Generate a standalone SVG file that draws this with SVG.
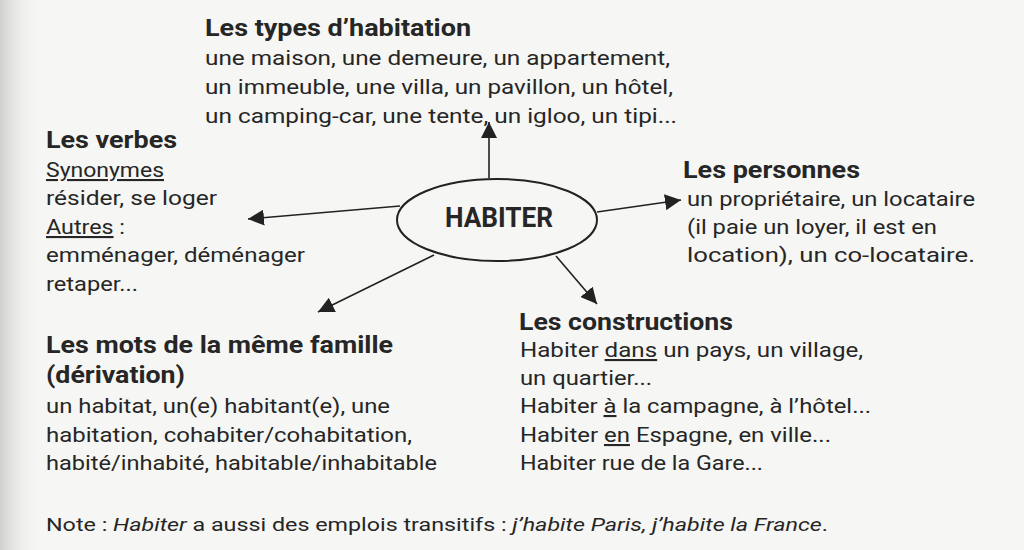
<svg xmlns="http://www.w3.org/2000/svg" width="1024" height="550" viewBox="0 0 1024 550">
<defs>
<linearGradient id="edge" x1="0" y1="0" x2="1" y2="0">
<stop offset="0" stop-color="#cfcfcd"/>
<stop offset="1" stop-color="#f5f5f3" stop-opacity="0"/>
</linearGradient>
<marker id="arr" viewBox="0 0 10 10" refX="10" refY="5" markerWidth="16" markerHeight="16" markerUnits="userSpaceOnUse" orient="auto">
<path d="M0,0 L10,5 L0,10 z" fill="#222"/>
</marker>
<style>
.t{font-family:Roboto,"Liberation Sans",sans-serif;font-weight:bold;font-size:24px;fill:#262626}
.b{font-family:Roboto,"Liberation Sans",sans-serif;font-size:21px;fill:#262626}
.n{font-family:Roboto,"Liberation Sans",sans-serif;font-size:18px;fill:#262626}
.u{text-decoration:underline}
.c{stroke:#222;stroke-width:1.6;fill:none;marker-end:url(#arr)}
</style>
</defs>
<rect width="1024" height="550" fill="#f6f6f4"/>
<rect width="40" height="550" fill="url(#edge)"/>

<g id="connectors">
<line class="c" x1="489" y1="178" x2="489" y2="122"/>
<line class="c" x1="597" y1="212" x2="681" y2="200"/>
<line class="c" x1="400" y1="206" x2="248" y2="219"/>
<line class="c" x1="434" y1="255" x2="318" y2="312"/>
<line class="c" x1="556" y1="256" x2="597" y2="304"/>
</g>

<g id="habiter">
<ellipse cx="497" cy="220" rx="100" ry="41" fill="none" stroke="#222" stroke-width="2"/>
<text x="499" y="227" text-anchor="middle" font-family="Roboto,'Liberation Sans',sans-serif" font-weight="bold" font-size="27" fill="#262626" textLength="108" lengthAdjust="spacingAndGlyphs">HABITER</text>
</g>

<g id="types">
<text class="t" x="205" y="36" textLength="266" lengthAdjust="spacingAndGlyphs">Les types d’habitation</text>
<text class="b" x="205" y="65" textLength="465" lengthAdjust="spacingAndGlyphs">une maison, une demeure, un appartement,</text>
<text class="b" x="205" y="94" textLength="468" lengthAdjust="spacingAndGlyphs">un immeuble, une villa, un pavillon, un hôtel,</text>
<text class="b" x="205" y="123" textLength="472" lengthAdjust="spacingAndGlyphs">un camping-car, une tente, un igloo, un tipi...</text>
</g>

<g id="verbes">
<text class="t" x="46" y="148" textLength="131" lengthAdjust="spacingAndGlyphs">Les verbes</text>
<text class="b u" x="46" y="177" textLength="118" lengthAdjust="spacingAndGlyphs">Synonymes</text>
<text class="b" x="46" y="205" textLength="171" lengthAdjust="spacingAndGlyphs">résider, se loger</text>
<text class="b" x="46" y="234" textLength="79" lengthAdjust="spacingAndGlyphs"><tspan class="u">Autres</tspan> :</text>
<text class="b" x="46" y="262" textLength="259" lengthAdjust="spacingAndGlyphs">emménager, déménager</text>
<text class="b" x="46" y="291" textLength="92" lengthAdjust="spacingAndGlyphs">retaper...</text>
</g>

<g id="personnes">
<text class="t" x="683" y="178" textLength="177" lengthAdjust="spacingAndGlyphs">Les personnes</text>
<text class="b" x="687" y="206" textLength="288" lengthAdjust="spacingAndGlyphs">un propriétaire, un locataire</text>
<text class="b" x="687" y="234" textLength="250" lengthAdjust="spacingAndGlyphs">(il paie un loyer, il est en</text>
<text class="b" x="687" y="262" textLength="288" lengthAdjust="spacingAndGlyphs">location), un co-locataire.</text>
</g>

<g id="constructions">
<text class="t" x="519" y="330" textLength="214" lengthAdjust="spacingAndGlyphs">Les constructions</text>
<text class="b" x="520" y="357" textLength="343" lengthAdjust="spacingAndGlyphs">Habiter <tspan class="u">dans</tspan> un pays, un village,</text>
<text class="b" x="520" y="385" textLength="132" lengthAdjust="spacingAndGlyphs">un quartier...</text>
<text class="b" x="520" y="413" textLength="351" lengthAdjust="spacingAndGlyphs">Habiter <tspan class="u">à</tspan> la campagne, à l’hôtel...</text>
<text class="b" x="520" y="442" textLength="311" lengthAdjust="spacingAndGlyphs">Habiter <tspan class="u">en</tspan> Espagne, en ville...</text>
<text class="b" x="520" y="470" textLength="243" lengthAdjust="spacingAndGlyphs">Habiter rue de la Gare...</text>
</g>

<g id="famille">
<text class="t" x="46" y="353" textLength="347" lengthAdjust="spacingAndGlyphs">Les mots de la même famille</text>
<text class="t" x="46" y="383" textLength="139" lengthAdjust="spacingAndGlyphs">(dérivation)</text>
<text class="b" x="46" y="413" textLength="344" lengthAdjust="spacingAndGlyphs">un habitat, un(e) habitant(e), une</text>
<text class="b" x="46" y="442" textLength="366" lengthAdjust="spacingAndGlyphs">habitation, cohabiter/cohabitation,</text>
<text class="b" x="46" y="470" textLength="391" lengthAdjust="spacingAndGlyphs">habité/inhabité, habitable/inhabitable</text>
</g>

<g id="note">
<text class="n" x="46" y="531" textLength="782" lengthAdjust="spacingAndGlyphs">Note : <tspan font-style="italic">Habiter</tspan> a aussi des emplois transitifs : <tspan font-style="italic">j’habite Paris, j’habite la France</tspan>.</text>
</g>
</svg>
